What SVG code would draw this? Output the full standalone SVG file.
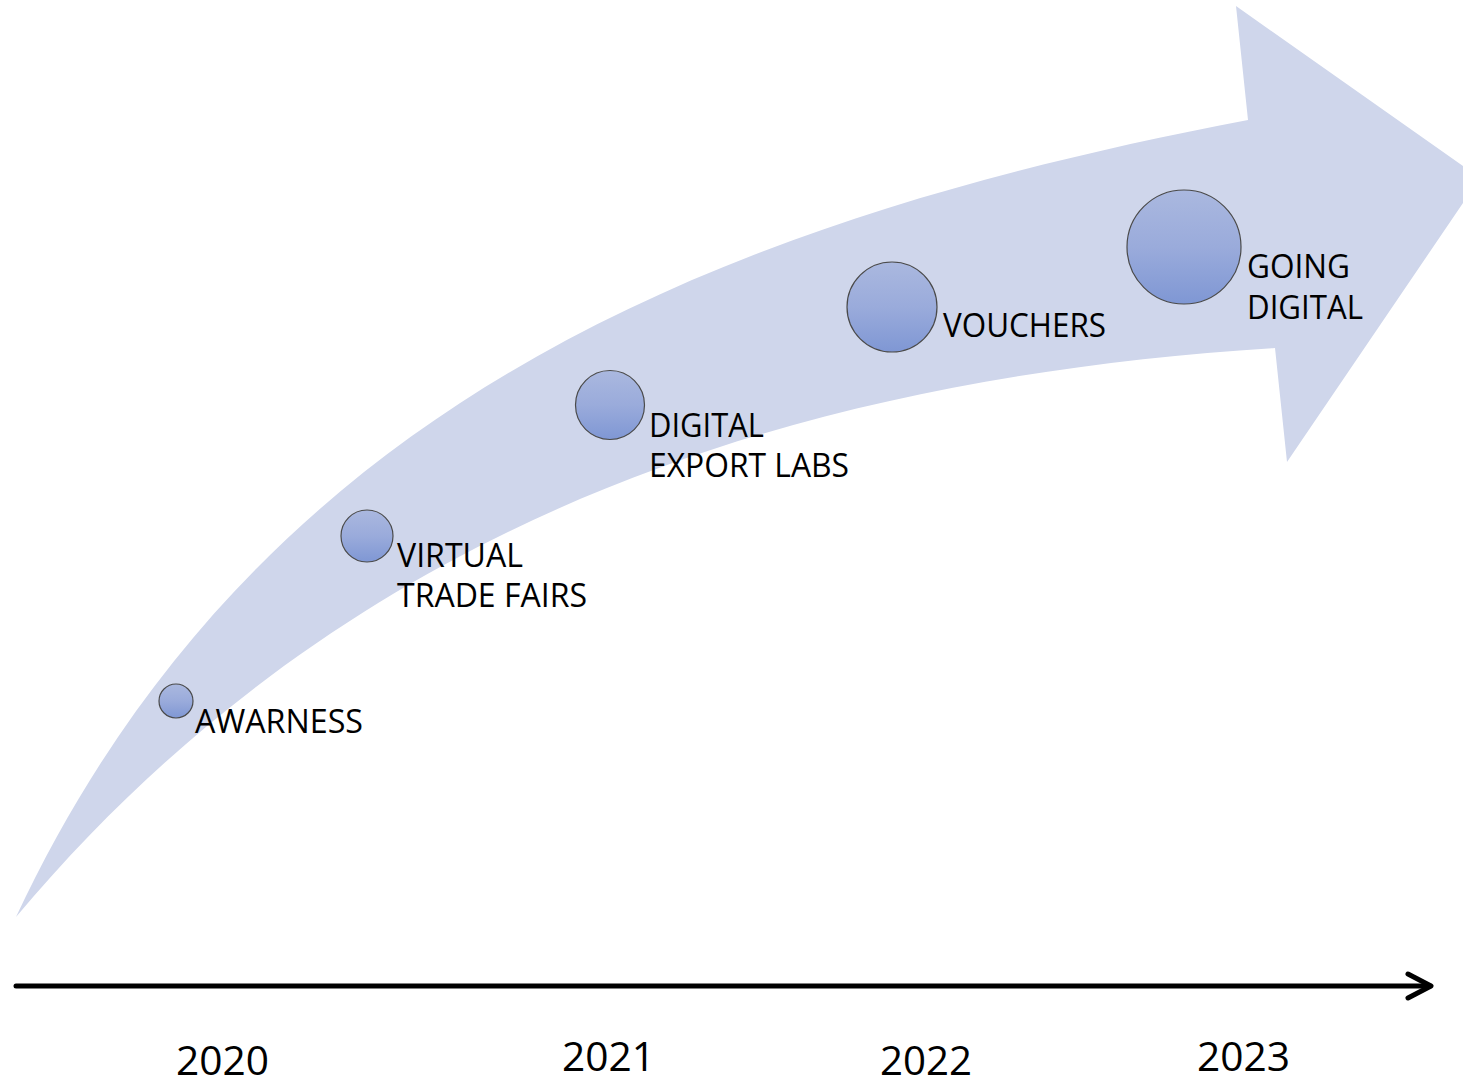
<svg xmlns="http://www.w3.org/2000/svg" width="1463" height="1086" viewBox="0 0 1463 1086">
  <style>
    .lbl { font-family: "Open Sans", "Liberation Sans", sans-serif; font-size: 32px; fill: #000000; }
    .yr { font-family: "Open Sans", "Liberation Sans", sans-serif; font-size: 40px; fill: #000000; }
    .dot { fill: url(#dotGrad); stroke: #4A4A4A; stroke-width: 1.2; }
    .axis { fill: none; stroke: #000000; stroke-width: 5; stroke-linecap: round; stroke-linejoin: round; }
  </style>
  <defs>
    <linearGradient id="dotGrad" x1="0" y1="0" x2="0" y2="1">
      <stop offset="0" stop-color="#AAB8DF"/>
      <stop offset="0.5" stop-color="#9AABDB"/>
      <stop offset="1" stop-color="#7F97D4"/>
    </linearGradient>
  </defs>
  <rect width="1463" height="1086" fill="#FFFFFF"/>

  <g id="growth-arrow">
    <path d="M16,917 C253,411 707,223 1248,120 L1236,6 L1480,178 L1287,462 L1275,348 C796,378 350,519 16,917 Z" fill="#CFD6EB"/>
  </g>

  <g id="connectors">
    <line class="axis" x1="16" y1="986" x2="1430" y2="986"/>
    <polyline class="axis" points="1408,974 1431,986 1408,998"/>
  </g>

  <g id="node-awarness">
    <circle class="dot" cx="176" cy="701" r="17"/>
    <text class="lbl" x="195" y="733" textLength="168" lengthAdjust="spacingAndGlyphs">AWARNESS</text>
  </g>

  <g id="node-virtual-trade-fairs">
    <circle class="dot" cx="367" cy="536" r="26"/>
    <text class="lbl" x="397" y="567" textLength="126" lengthAdjust="spacingAndGlyphs">VIRTUAL</text>
    <text class="lbl" x="397" y="607" textLength="190" lengthAdjust="spacingAndGlyphs">TRADE FAIRS</text>
  </g>

  <g id="node-digital-export-labs">
    <circle class="dot" cx="610" cy="405" r="34.5"/>
    <text class="lbl" x="649" y="437" textLength="115" lengthAdjust="spacingAndGlyphs">DIGITAL</text>
    <text class="lbl" x="649" y="477" textLength="200" lengthAdjust="spacingAndGlyphs">EXPORT LABS</text>
  </g>

  <g id="node-vouchers">
    <circle class="dot" cx="892" cy="307" r="45"/>
    <text class="lbl" x="943" y="337" textLength="163" lengthAdjust="spacingAndGlyphs">VOUCHERS</text>
  </g>

  <g id="node-going-digital">
    <circle class="dot" cx="1184" cy="247" r="57"/>
    <text class="lbl" x="1247" y="278" textLength="103" lengthAdjust="spacingAndGlyphs">GOING</text>
    <text class="lbl" x="1247" y="319" textLength="116" lengthAdjust="spacingAndGlyphs">DIGITAL</text>
  </g>

  <g id="year-labels">
    <text class="yr" x="176" y="1075" textLength="93" lengthAdjust="spacingAndGlyphs">2020</text>
    <text class="yr" x="562" y="1071" textLength="93" lengthAdjust="spacingAndGlyphs">2021</text>
    <text class="yr" x="880" y="1075" textLength="92" lengthAdjust="spacingAndGlyphs">2022</text>
    <text class="yr" x="1197" y="1071" textLength="93" lengthAdjust="spacingAndGlyphs">2023</text>
  </g>
</svg>
